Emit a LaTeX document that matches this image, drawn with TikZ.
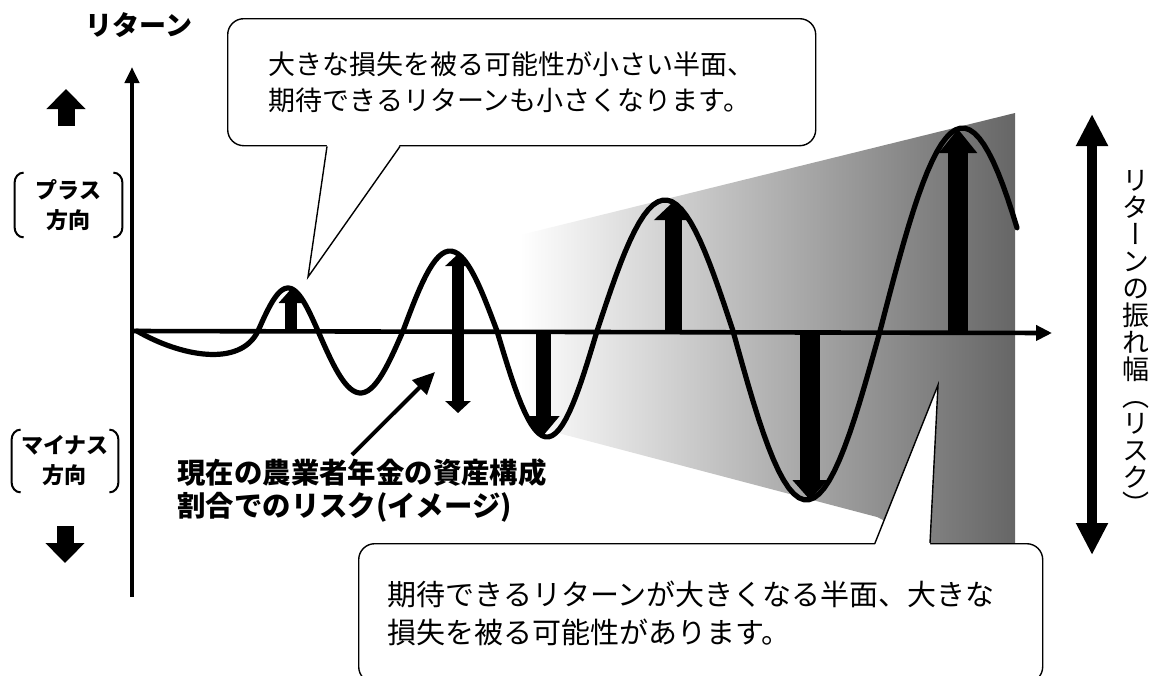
\documentclass[tikz,border=0pt]{standalone}
\usepackage{fontspec}
\newfontfamily\jp{Noto Sans CJK JP}
\newfontfamily\jpv[RawFeature=+vert]{Noto Sans CJK JP}
\usetikzlibrary{arrows.meta,calc,positioning}

\begin{document}
\begin{tikzpicture}[x=0.5pt, y=-0.5pt,
    axisline/.style={line width=2.3pt, -{Triangle[width=7pt,length=8pt]}},
    wave/.style={line width=2.6pt, line cap=round, line join=round},
    riskbar/.style={line width=#1},
    bubble/.style={draw, fill=white, rounded corners=8pt, line width=0.7pt,
                   align=left, anchor=north west},
    tail/.style={line width=0.7pt},
    blockarr/.style={line width=8.5pt, -{Triangle[width=19pt,length=10pt]}},
    brk/.style={line width=1pt},
    dirlbl/.style={font=\jp\bfseries\fontsize{11}{15}\selectfont, align=center, inner sep=0pt},
  ]
  \useasboundingbox (0,0) rectangle (1154,675);

  % risk fan
  \shade[left color=white, middle color=black!20, right color=black!60]
    (520,235) -- (1015,113) -- (1015,543) -- (930,543) -- (877,517) -- (520,423) -- cycle;

  % axes
  \coordinate (o) at (132,331);
  \coordinate (ytop) at (132,67);
  \coordinate (ybot) at (132,597);
  \coordinate (xend) at (1052,333);
  \draw[axisline] (ybot) -- (ytop);
  \draw[axisline, -{Triangle[width=7.5pt,length=8pt]}] (o) -- (xend);

  % amplitude bars
  \draw[riskbar=6pt, -{Triangle[width=12pt,length=7pt]}] (291,331) -- (291,289);
  \draw[riskbar=6pt, {Triangle[width=12.5pt,length=6pt]}-{Triangle[width=12.5pt,length=6pt]}] (458,254) -- (458,413);
  \draw[riskbar=7.5pt, -{Triangle[width=16pt,length=10pt]}] (543,331) -- (543,436);
  \draw[riskbar=8.5pt, -{Triangle[width=18.5pt,length=9pt]}] (673,333) -- (673,202);
  \draw[riskbar=10pt, -{Triangle[width=17pt,length=10pt]}] (810,333) -- (810,500);
  \draw[riskbar=10pt, -{Triangle[width=18.5pt,length=12pt]}] (958,333) -- (958,129);

  % return curve
  \draw[wave] (137,331) .. controls (180,356) and (240,368) .. (258,331)
    \foreach \xa/\xb/\xe/\amp in {258/318/318/43, 318/403/403/-62, 403/497/497/80,
      497/597/597/-106, 597/733/733/131, 733/880/880/-169, 880/1045/1017/203}
    { -- plot[domain=\xa:\xe, samples=30] (\x,{331-(\amp)*sin(180/(\xb-\xa)*(\x-\xa))}) };

  % left labels
  \node[font=\jp\bfseries\fontsize{13.5}{16}\selectfont] (ret) at (139,25) {リターン};
  \draw[blockarr] (66,126) -- (66,89);
  \node[dirlbl, minimum width=53.5pt, minimum height=32pt] (plus) at (68.5,205) {プラス\\方向};
  \node[dirlbl, minimum width=53pt, minimum height=31pt] (minus) at (65,461) {マイナス\\方向};
  \draw[blockarr] (65,526) -- (65,563);
  \foreach \n in {plus,minus}{
    \draw[brk] ($(\n.north west)+(9,0)$) to[out=180,in=90] ($(\n.north west)+(0,10)$)
      -- ($(\n.south west)+(0,-10)$) to[out=-90,in=180] ($(\n.south west)+(9,0)$);
    \draw[brk] ($(\n.north east)+(-9,0)$) to[out=0,in=90] ($(\n.north east)+(0,10)$)
      -- ($(\n.south east)+(0,-10)$) to[out=-90,in=0] ($(\n.south east)+(-9,0)$);
  }

  % current allocation note
  \node[font=\jp\bfseries\fontsize{14.2}{16.5}\selectfont, align=left, inner sep=2pt] (note) at (362,491)
    {現在の農業者年金の資産構成\\割合でのリスク(イメージ)};
  \coordinate (cur) at (435,372);
  \draw[line width=2pt, -{Triangle[width=10pt,length=11pt]}] ([xshift=-5pt]note.north) -- (cur);

  % risk width arrow
  \coordinate (rtop) at (1092,114);
  \coordinate (rbot) at (1092,555);
  \draw[line width=5pt, {Triangle[width=15pt,length=16pt]}-{Triangle[width=15pt,length=16pt]}] (rtop) -- (rbot);
  \node[font=\jpv\fontsize{13.5}{13.5}\selectfont, align=center, inner sep=0pt] (risktxt) at (1136,342)
    {リ\\タ\\ー\\ン\\の\\振\\れ\\幅\\（\\リ\\ス\\ク\\）};

  % callouts
  \node[bubble, font=\jp\fontsize{13.5}{18}\selectfont, inner xsep=20.5pt, text width=253pt,
        minimum height=63.5pt] (topbox) at (227,18)
    {大きな損失を被る可能性が小さい半面、\\期待できるリターンも小さくなります。};
  \coordinate (toptip) at (308,277);
  \fill[white] ($(topbox.south west)+(100,-2)$) -- (toptip) -- ($(topbox.south west)+(173,-2)$) -- cycle;
  \draw[tail] ($(topbox.south west)+(100,0)$) -- (toptip) -- ($(topbox.south west)+(173,0)$);

  \node[bubble, font=\jp\fontsize{14.5}{19}\selectfont, inner xsep=14.5pt, text width=313pt,
        minimum height=69.5pt] (lowbox) at (358,543)
    {期待できるリターンが大きくなる半面、大きな\\損失を被る可能性があります。};
  \coordinate (lowtip) at (938,385);
  \fill[white] ($(lowbox.north west)+(517,2)$) -- (lowtip) -- ($(lowbox.north west)+(572,2)$) -- cycle;
  \draw[tail] ($(lowbox.north west)+(517,0)$) -- (lowtip) -- ($(lowbox.north west)+(572,0)$);
\end{tikzpicture}
\end{document}
